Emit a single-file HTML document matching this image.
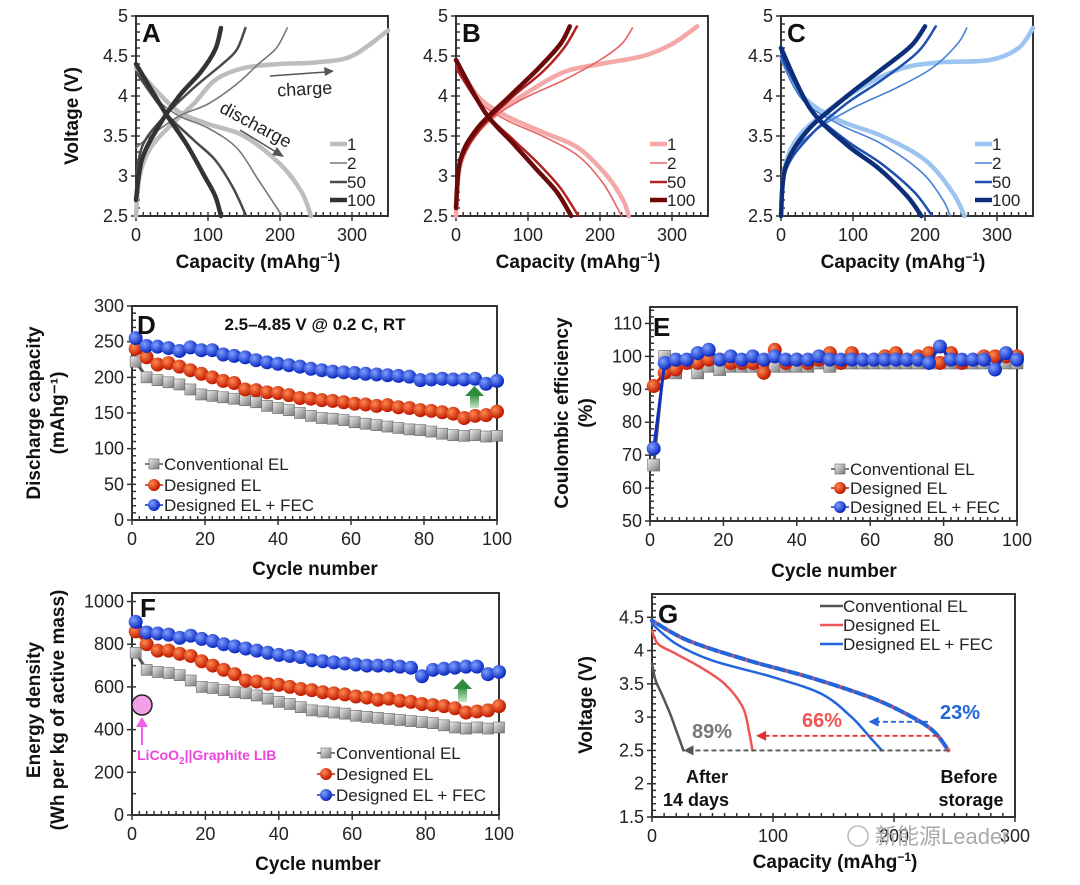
<!DOCTYPE html>
<html><head><meta charset="utf-8"><style>
body{margin:0;background:#fff}
svg{display:block;font-family:"Liberation Sans",Arial,sans-serif}
.t{font-size:18px;fill:#222}
.ti{font-size:19px;font-weight:bold;fill:#111}
.lg{font-size:17px;fill:#222}
.pl{font-size:26px;font-weight:bold;fill:#111}
</style></head><body>
<svg id="fig" width="1080" height="885" viewBox="0 0 1080 885" xmlns="http://www.w3.org/2000/svg">
<defs>
<radialGradient id="gB" cx="35%" cy="35%" r="65%"><stop offset="0" stop-color="#7fa0ff"/><stop offset="1" stop-color="#0a28c0"/></radialGradient>
<radialGradient id="gR" cx="35%" cy="35%" r="65%"><stop offset="0" stop-color="#ff8a50"/><stop offset="1" stop-color="#c01800"/></radialGradient>
<linearGradient id="gG" x1="0" y1="0" x2="1" y2="1"><stop offset="0" stop-color="#eee"/><stop offset="1" stop-color="#777"/></linearGradient>
<linearGradient id="gA" x1="0" y1="0" x2="0" y2="1"><stop offset="0" stop-color="#2e8b3a"/><stop offset="1" stop-color="#c8e6c8"/></linearGradient>
</defs>
</svg>
<script>
// ---------- data ----------
const cycles=[1,4,7,10,13,16,19,22,25,28,31,34,37,40,43,46,49,52,55,58,61,64,67,70,73,76,79,82,85,88,91,94,97,100];
const dConv=[222,200,196,193,190,183,176,174,172,170,168,165,160,157,154,150,146,143,142,140,137,135,133,131,129,127,126,124,121,119,118,119,117,118];
const dDes=[240,228,218,220,215,210,205,200,195,192,183,182,179,178,175,171,170,168,167,165,163,162,160,161,158,157,154,153,151,149,143,146,147,152];
const dFec=[255,244,243,241,237,242,238,238,232,230,228,224,221,219,217,215,212,210,208,207,206,205,204,203,202,201,196,197,198,197,197,198,191,195];
const eConv=[67,100,95,98,95,97,96,97,97,97,97,97,97,97,97,98,97,98,98,98,98,98,98,98,98,98,98,98,98,98,98,98,98,98];
const eDes=[91,95,96,98,98,99,99,98,98,98,95,102,98,99,98,99,101,98,101,99,99,100,101,99,100,101,98,101,98,99,100,100,100,100];
const eFec=[72,98,99,99,101,102,99,100,99,100,99,100,99,99,99,100,99,99,99,99,99,99,99,99,99,98,103,99,99,99,99,96,101,99];
const fConv=[760,680,670,665,655,630,600,595,585,575,570,560,545,530,520,505,490,485,480,475,465,460,455,450,445,440,435,430,420,410,405,410,405,410];
const fDes=[860,800,770,770,755,745,720,700,680,660,630,625,615,610,600,590,585,575,570,565,555,550,540,545,535,530,520,515,510,500,480,485,490,510];
const fFec=[905,855,850,845,830,840,825,815,800,790,780,770,760,750,745,740,725,720,715,710,705,700,700,700,695,690,650,680,685,690,695,695,660,670];
// voltage profiles [capacity, voltage]
const aCh={c1:[[0,2.5],[5,3.0],[20,3.35],[50,3.65],[80,3.9],[110,4.2],[150,4.35],[200,4.4],[250,4.42],[300,4.5],[350,4.82]],
 c2:[[0,3.35],[20,3.5],[60,3.75],[100,3.9],[140,4.15],[170,4.4],[195,4.6],[210,4.85]],
 c50:[[0,3.0],[10,3.4],[40,3.75],[80,4.1],[120,4.4],[140,4.58],[152,4.85]],
 c100:[[0,2.7],[8,3.2],[30,3.6],[60,4.0],[90,4.3],[110,4.58],[118,4.85]]};
const aDis={c1:[[0,4.35],[30,4.05],[60,3.8],[100,3.65],[150,3.5],[200,3.15],[230,2.8],[243,2.5]],
 c2:[[0,4.3],[30,3.95],[60,3.75],[100,3.6],[140,3.35],[170,2.95],[203,2.5]],
 c50:[[0,4.3],[40,3.8],[80,3.45],[110,3.2],[135,2.85],[153,2.5]],
 c100:[[0,4.4],[40,3.8],[70,3.4],[95,3.0],[110,2.75],[118,2.5]]};
const bCh={c1:[[0,2.5],[5,3.1],[25,3.5],[60,3.8],[100,4.05],[150,4.3],[200,4.4],[260,4.5],[300,4.65],[335,4.87]],
 c2:[[0,2.8],[10,3.3],[40,3.65],[90,3.95],[150,4.2],[200,4.45],[230,4.65],[245,4.85]],
 c50:[[0,2.7],[8,3.2],[35,3.6],[80,4.0],[120,4.3],[150,4.6],[168,4.87]],
 c100:[[0,2.6],[6,3.2],[30,3.6],[75,4.0],[115,4.35],[145,4.65],[158,4.87]]};
const bDis={c1:[[0,4.45],[30,4.0],[70,3.75],[120,3.55],[170,3.35],[210,3.0],[232,2.7],[240,2.5]],
 c2:[[0,4.4],[30,3.95],[70,3.7],[120,3.5],[170,3.25],[205,2.9],[230,2.5]],
 c50:[[0,4.35],[40,3.8],[80,3.45],[115,3.15],[145,2.85],[170,2.5]],
 c100:[[0,4.45],[40,3.8],[80,3.4],[110,3.1],[140,2.8],[160,2.5]]};
const cCh={c1:[[0,2.5],[5,3.1],[25,3.5],[70,3.85],[120,4.15],[170,4.35],[220,4.42],[290,4.45],[330,4.6],[350,4.85]],
 c2:[[0,2.7],[10,3.2],[45,3.55],[100,3.85],[160,4.1],[210,4.35],[245,4.65],[258,4.85]],
 c50:[[0,2.6],[8,3.1],[40,3.5],[90,3.9],[140,4.2],[190,4.55],[215,4.87]],
 c100:[[0,2.5],[6,3.1],[35,3.55],[85,3.95],[135,4.3],[180,4.62],[200,4.87]]};
const cDis={c1:[[0,4.5],[30,4.0],[80,3.7],[140,3.5],[200,3.2],[238,2.8],[255,2.5]],
 c2:[[0,4.45],[30,3.95],[80,3.65],[140,3.4],[195,3.05],[225,2.7],[235,2.5]],
 c50:[[0,4.5],[40,3.85],[90,3.45],[140,3.15],[185,2.8],[210,2.5]],
 c100:[[0,4.6],[40,3.85],[90,3.4],[135,3.1],[175,2.75],[195,2.5]]};
const gConv=[[0,3.8],[3,3.55],[8,3.35],[15,3.05],[20,2.8],[26,2.5]];
const gDes=[[0,4.3],[5,4.1],[20,3.95],[40,3.75],[60,3.5],[75,3.15],[80,2.8],[83,2.5]];
const gFec=[[0,4.4],[20,4.1],[50,3.85],[100,3.6],[140,3.35],[165,3.0],[180,2.7],[190,2.5]];
const gBefore=[[0,4.45],[30,4.15],[80,3.85],[130,3.6],[180,3.3],[210,3.05],[232,2.8],[245,2.5]];

// ---------- helpers ----------
const NS='http://www.w3.org/2000/svg';const svg=document.getElementById('fig');
function mk(tag,at,parent){const e=document.createElementNS(NS,tag);for(const k in at)e.setAttribute(k,at[k]);(parent||svg).appendChild(e);return e;}
function txt(x,y,s,cls,anchor,extra){const e=mk('text',Object.assign({x:x,y:y,class:cls,'text-anchor':anchor||'middle'},extra||{}));e.textContent=s;return e;}
function Axis(L,T,R,B,x0,x1,y0,y1){return{L,T,R,B,sx:v=>L+(v-x0)/(x1-x0)*(R-L),sy:v=>B-(v-y0)/(y1-y0)*(B-T)};}
function frame(ax,xt,yt,xminor,yminor,xl0,xl1,yl0,yl1){
 const r=mk('rect',{x:ax.L,y:ax.T,width:ax.R-ax.L,height:ax.B-ax.T,fill:'none',stroke:'#333','stroke-width':2});
 
 for(let v=xl0;v<=xl1+1e-9;v+=xminor){const x=ax.sx(v);mk('line',{x1:x,x2:x,y1:ax.B,y2:ax.B-4,stroke:'#333','stroke-width':1.5});}
 for(let v=yl0;v<=yl1+1e-9;v+=yminor){const y=ax.sy(v);mk('line',{x1:ax.L,x2:ax.L+4,y1:y,y2:y,stroke:'#333','stroke-width':1.5});}
 xt.forEach(v=>{const x=ax.sx(v);mk('line',{x1:x,x2:x,y1:ax.B,y2:ax.B+5,stroke:'#333','stroke-width':1.5});const e=txt(x,ax.B+25,String(v),'t');});
 yt.forEach(v=>{const y=ax.sy(v);mk('line',{x1:ax.L-5,x2:ax.L,y1:y,y2:y,stroke:'#333','stroke-width':1.5});const e=txt(ax.L-8,y+6,String(v),'t','end');});
}
function smooth(ax,pts){const p=pts.map(q=>[ax.sx(q[0]),ax.sy(q[1])]);let d='M'+p[0][0]+','+p[0][1];
 for(let i=0;i<p.length-1;i++){const a=p[i-1]||p[i],b=p[i],c=p[i+1],e=p[i+2]||c;
  d+=' C'+(b[0]+(c[0]-a[0])/6)+','+(b[1]+(c[1]-a[1])/6)+' '+(c[0]-(e[0]-b[0])/6)+','+(c[1]-(e[1]-b[1])/6)+' '+c[0]+','+c[1];}return d;}
function curve(ax,pts,color,w,name,dash){const e=mk('path',{d:smooth(ax,pts),fill:'none',stroke:color,'stroke-width':w,'stroke-linecap':'round'});if(dash)e.setAttribute('stroke-dasharray',dash);
 return e;}
function series(ax,xs,ys,kind,name,r){const g=mk('g',{});
 const col=kind==='sq'?'#555':kind==='red'?'#c02000':'#1030c0';
 mk('polyline',{points:xs.map((x,i)=>ax.sx(x)+','+ax.sy(ys[i])).join(' '),fill:'none',stroke:col,'stroke-width':3},g);
 xs.forEach((x,i)=>{const cx=ax.sx(x),cy=ax.sy(ys[i]);
  if(kind==='sq')mk('rect',{x:cx-r,y:cy-r,width:2*r,height:2*r,fill:'url(#gG)',stroke:'#666','stroke-width':0.6},g);
  else mk('circle',{cx:cx,cy:cy,r:r,fill:kind==='red'?'url(#gR)':'url(#gB)'},g);});return g;}
function legendMarker(x,y,kind,label){const g=mk('g',{});
 const col=kind==='sq'?'#555':kind==='red'?'#c02000':'#1030c0';
 mk('line',{x1:x-9,x2:x+9,y1:y,y2:y,stroke:col,'stroke-width':1.5},g);
 if(kind==='sq')mk('rect',{x:x-5,y:y-5,width:10,height:10,fill:'url(#gG)',stroke:'#666','stroke-width':0.6},g);
 else mk('circle',{cx:x,cy:y,r:6,fill:kind==='red'?'url(#gR)':'url(#gB)'},g);
 const t=mk('text',{x:x+10,y:y+6,class:'lg'},g);t.textContent=label;}
function rotTitle(x,y,s){const e=txt(x,y,s,'ti','middle',{transform:'rotate(-90 '+x+' '+y+')'});return e;}
function xTitle(x,y,s){const e=mk('text',{x:x,y:y,class:'ti','text-anchor':'middle'});e.innerHTML=s;return e;}
function plabel(x,y,s){const e=txt(x,y,s,'pl','start');}
const capT='Capacity (mAhg<tspan baseline-shift="super" font-size="12">−1</tspan>)';

// ---------- panels A,B,C ----------
function vPanel(L,letter,ch,dis,cols,ws){
 const ax=Axis(L,16,L+252,216,0,350,2.5,5);
 frame(ax,[0,100,200,300],[2.5,3,3.5,4,4.5,5],10,0.1,0,350,2.5,5);
 ['c1','c2','c50','c100'].forEach((k,i)=>{curve(ax,dis[k],cols[i],ws[i],'discharge-cycle-'+k.slice(1));curve(ax,ch[k],cols[i],ws[i],'charge-cycle-'+k.slice(1));});
 ['1','2','50','100'].forEach((s,i)=>{const y=[144,163,182,200][i];const g=mk('g',{});
  mk('line',{x1:L+194,x2:L+211,y1:y,y2:y,stroke:cols[i],'stroke-width':ws[i]},g);const t=mk('text',{x:L+211,y:y+6,class:'lg'},g);t.textContent=s;});
 plabel(L+6,42,letter);
 xTitle(L+122,268,capT);
 return ax;}
vPanel(136,'A',aCh,aDis,['#bdbdbd','#777','#4a4a4a','#333'],[4.5,1.6,2.5,4.5]);
vPanel(456,'B',bCh,bDis,['#f4a8a8','#e86464','#b02222','#6b0a0a'],[4.5,1.6,2.5,4.5]);
vPanel(781,'C',cCh,cDis,['#9cc4f0','#4a80d8','#1f4fb0','#0d2f7a'],[4.5,1.6,2.5,4.5]);
rotTitle(78,116,'Voltage (V)');
// annotations A
mk('line',{x1:270,y1:76,x2:326,y2:72,stroke:'#555','stroke-width':1.5});mk('path',{d:'M334,71 L324,67 L325,76 Z',fill:'#555'});
txt(305,95,'charge','t','middle',{'font-size':'15',transform:'rotate(-3 305 95)'});
txt(253,130,'discharge','t','middle',{'font-size':'15',transform:'rotate(28 253 130)'});
mk('line',{x1:240,y1:130,x2:276,y2:152,stroke:'#555','stroke-width':1.5});mk('path',{d:'M284,157 L272,155 L277,147 Z',fill:'#555'});

// ---------- panel D ----------
const axD=Axis(132,306,497,520,0,100,0,300);
frame(axD,[0,20,40,60,80,100],[0,50,100,150,200,250,300],2,10,0,100,0,300);
series(axD,cycles,dConv,'sq','series-conventional-el',5.5);
series(axD,cycles,dDes,'red','series-designed-el',7);
series(axD,cycles,dFec,'blue','series-designed-el-fec',7);
mk('rect',{x:470,y:394,width:9,height:14,fill:'url(#gA)'});mk('path',{d:'M465,396 L474.5,386 L484,396 Z',fill:'#2e8b3a'});
const dn=txt(315,330,'2.5–4.85 V @ 0.2 C, RT','ti');dn.setAttribute('style','font-size:17px');
legendMarker(154,464,'sq','Conventional EL');legendMarker(154,485,'red','Designed EL');legendMarker(154,505,'blue','Designed EL + FEC');
plabel(137,334,'D');
xTitle(315,575,'Cycle number');
rotTitle(40,413,'Discharge capacity');rotTitle(64,413,'(mAhg⁻¹)');

// ---------- panel E ----------
const axE=Axis(650,307,1017,521,0,100,50,115);
frame(axE,[0,20,40,60,80,100],[50,60,70,80,90,100,110],2,2,0,100,50,114);
series(axE,cycles,eConv,'sq','series-conventional-el',6);
series(axE,cycles,eDes,'red','series-designed-el',7);
series(axE,cycles,eFec,'blue','series-designed-el-fec',7);
legendMarker(840,469,'sq','Conventional EL');legendMarker(840,488,'red','Designed EL');legendMarker(840,507,'blue','Designed EL + FEC');
plabel(653,336,'E');
xTitle(834,577,'Cycle number');
rotTitle(568,413,'Coulombic efficiency');rotTitle(592,413,'(%)');

// ---------- panel F ----------
const axF=Axis(132,593,499,815,0,100,0,1040);
frame(axF,[0,20,40,60,80,100],[0,200,400,600,800,1000],2,100,0,100,0,1000);
series(axF,cycles,fConv,'sq','series-conventional-el',5.5);
series(axF,cycles,fDes,'red','series-designed-el',7);
series(axF,cycles,fFec,'blue','series-designed-el-fec',7);
mk('rect',{x:458,y:686,width:9,height:16,fill:'url(#gA)'});mk('path',{d:'M453,689 L462.5,679 L472,689 Z',fill:'#2e8b3a'});
mk('circle',{cx:142,cy:705,r:10,fill:'#f4a0e8',stroke:'#222','stroke-width':1.5});
mk('line',{x1:142,y1:745,x2:142,y2:724,stroke:'#f060e0','stroke-width':2});mk('path',{d:'M136,727 L142,717 L148,727 Z',fill:'#f060e0'});
const lc=mk('text',{x:137,y:760,fill:'#ee44dd','font-size':'14','font-weight':'bold'});lc.innerHTML='LiCoO<tspan font-size="10" dy="4">2</tspan><tspan dy="-4">||Graphite LIB</tspan>';
legendMarker(326,753,'sq','Conventional EL');legendMarker(326,774,'red','Designed EL');legendMarker(326,795,'blue','Designed EL + FEC');
plabel(140,617,'F');
xTitle(318,870,'Cycle number');
rotTitle(40,710,'Energy density');rotTitle(64,710,'(Wh per kg of active mass)');

// ---------- panel G ----------
const axG=Axis(652,594,1015,817,0,300,1.5,4.85);
frame(axG,[0,100,200,300],[1.5,2,2.5,3,3.5,4,4.5],10,0.1,0,300,1.5,4.8);
curve(axG,gConv,'#555',2.5,'curve-conventional-after');
curve(axG,gDes,'#ee5555',2.5,'curve-designed-after');
curve(axG,gFec,'#2266dd',2.5,'curve-fec-after');
curve(axG,gBefore,'#ee5555',4,'curve-designed-before','9 5');
curve(axG,gBefore,'#2266dd',4,'curve-fec-before','9 5').setAttribute('stroke-dashoffset','7');
function harrow(x0,x1,v,col){const y=axG.sy(v);mk('line',{x1:axG.sx(x0),x2:axG.sx(x1)+8,y1:y,y2:y,stroke:col,'stroke-width':1.8,'stroke-dasharray':'5 3'});
 const xa=axG.sx(x1);mk('path',{d:'M'+xa+','+y+' l10,-5 l0,10 Z',fill:col});}
harrow(245,26,2.5,'#555');harrow(236,86,2.72,'#e03030');harrow(228,179,2.93,'#2266dd');
txt(712,738,'89%','ti','middle',{style:'fill:#777;font-size:20px'});
txt(822,727,'66%','ti','middle',{style:'fill:#ee5555;font-size:20px'});
txt(960,719,'23%','ti','middle',{style:'fill:#2266dd;font-size:20px'});
txt(707,783,'After','ti','middle',{style:'font-size:18px'});txt(696,806,'14 days','ti','middle',{style:'font-size:18px'});
txt(969,783,'Before','ti','middle',{style:'font-size:18px'});txt(971,806,'storage','ti','middle',{style:'font-size:18px'});
[['#555','Conventional EL',606],['#ee5555','Designed EL',625],['#2266dd','Designed EL + FEC',644]].forEach(a=>{const g=mk('g',{});
 mk('line',{x1:820,x2:843,y1:a[2],y2:a[2],stroke:a[0],'stroke-width':2.5},g);const t=mk('text',{x:843,y:a[2]+6,class:'lg'},g);t.textContent=a[1];});
plabel(658,623,'G');
xTitle(835,868,capT);
rotTitle(592,705,'Voltage (V)');
const wm=txt(875,844,'新能源Leader','t','start',{style:'fill:#aaa;font-size:22px;font-family:"Liberation Sans","Noto Sans CJK SC",sans-serif'});

mk('circle',{cx:858,cy:836,r:10,fill:'none',stroke:'#bbb','stroke-width':1.5});
</script>
</body></html>
